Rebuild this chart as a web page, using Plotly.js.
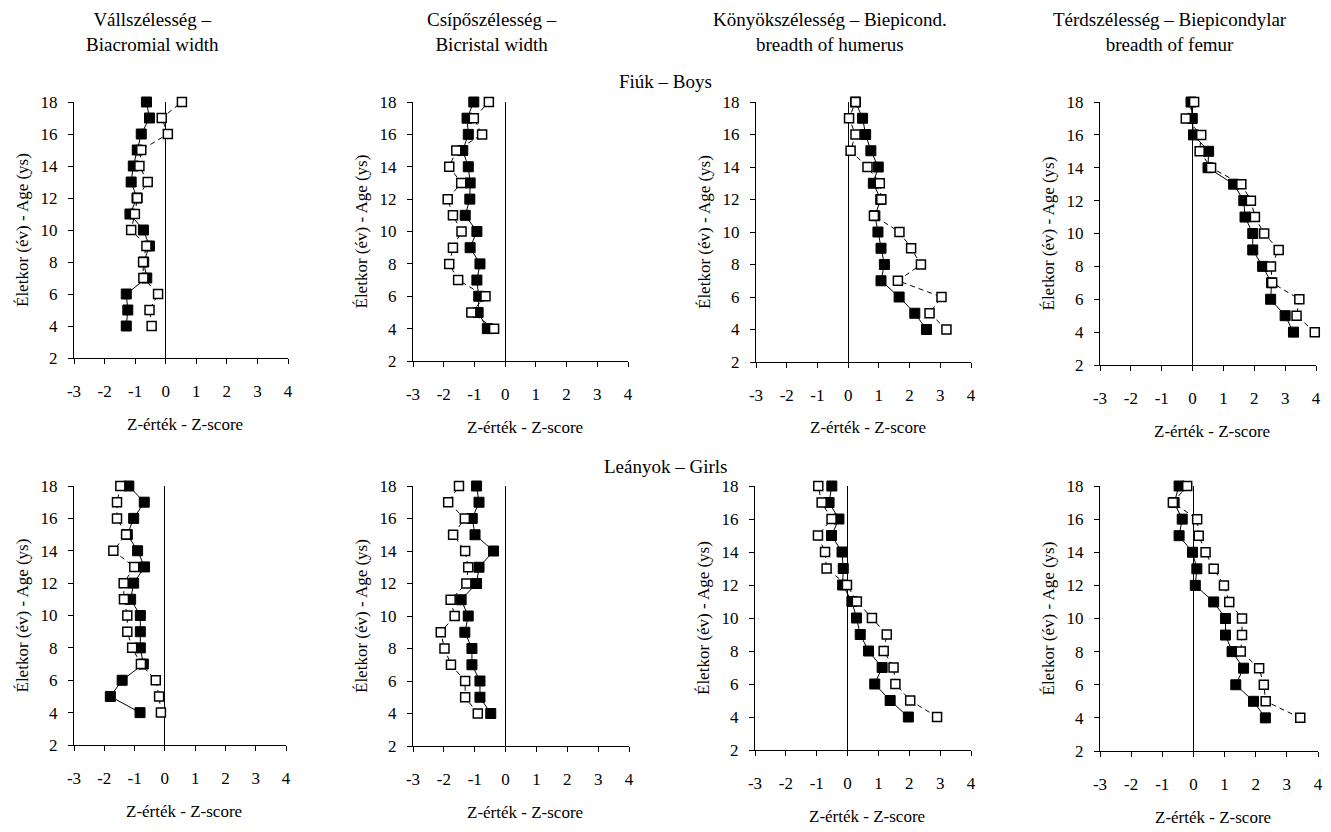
<!DOCTYPE html>
<html>
<head>
<meta charset="utf-8">
<script src="https://cdn.plot.ly/plotly-3.0.1.min.js"></script>
<style>html,body{margin:0;padding:0;background:#fff}#chart{width:1331px;height:832px}</style>
</head>
<body>
<div id="chart"></div>
<script>
// ---- data (ages 4..18) ----
const ages = [4,5,6,7,8,9,10,11,12,13,14,15,16,17,18];
const xTicks = [-3,-2,-1,0,1,2,3,4];
const yTicks = [2,4,6,8,10,12,14,16,18];
const columnTitles = ["Vállszélesség –<br>Biacromial width", "Csípőszélesség –<br>Bicristal width", "Könyökszélesség – Biepicond.<br>breadth of humerus", "Térdszélesség – Biepicondylar<br>breadth of femur"];
const rowTitles = ["Fiúk – Boys", "Leányok – Girls"];
const xTitle = "Z-érték - Z-score";
const yTitle = "Életkor (év) - Age (ys)";

// Boys
const boysShoulderFilled = [-1.29,-1.24,-1.29,-0.62,-0.72,-0.53,-0.73,-1.17,-0.94,-1.13,-1.06,-0.93,-0.80,-0.53,-0.63];
const boysShoulderOpen   = [-0.46,-0.53,-0.25,-0.73,-0.74,-0.63,-1.13,-1.01,-0.93,-0.59,-0.86,-0.80,0.07,-0.13,0.53];
const boysHipFilled = [-0.58,-0.88,-0.86,-0.92,-0.82,-1.14,-0.92,-1.30,-1.15,-1.14,-1.20,-1.38,-1.20,-1.24,-1.02];
const boysHipOpen   = [-0.36,-1.10,-0.64,-1.53,-1.82,-1.70,-1.42,-1.70,-1.87,-1.43,-1.82,-1.59,-0.75,-1.02,-0.53];
const boysElbowFilled = [2.55,2.17,1.66,1.07,1.18,1.07,0.97,0.87,1.06,0.82,0.98,0.74,0.57,0.47,0.24];
const boysElbowOpen   = [3.20,2.65,3.04,1.62,2.37,2.05,1.67,0.84,1.08,1.03,0.63,0.08,0.24,0.03,0.24];
const boysKneeFilled = [3.27,3.00,2.53,2.56,2.27,1.95,1.95,1.70,1.66,1.33,0.50,0.52,0.03,-0.01,-0.05];
const boysKneeOpen   = [3.96,3.37,3.46,2.58,2.54,2.79,2.32,2.02,1.89,1.58,0.60,0.23,0.28,-0.22,0.05];
// Girls
const girlsShoulderFilled = [-0.82,-1.80,-1.41,-0.71,-0.81,-0.81,-0.81,-1.13,-1.03,-0.67,-0.90,-1.24,-1.03,-0.68,-1.19];
const girlsShoulderOpen   = [-0.13,-0.19,-0.30,-0.79,-1.08,-1.24,-1.24,-1.35,-1.36,-1.01,-1.70,-1.28,-1.58,-1.58,-1.47];
const girlsHipFilled = [-0.48,-0.83,-0.83,-1.09,-1.09,-1.32,-1.21,-1.44,-0.94,-0.86,-0.39,-0.99,-1.08,-0.86,-0.94];
const girlsHipOpen   = [-0.90,-1.31,-1.31,-1.77,-1.98,-2.10,-1.65,-1.78,-1.27,-1.21,-1.31,-1.70,-1.32,-1.86,-1.51];
const girlsElbowFilled = [1.97,1.38,0.88,1.12,0.68,0.41,0.29,0.14,-0.16,-0.14,-0.18,-0.52,-0.28,-0.60,-0.51];
const girlsElbowOpen   = [2.90,2.03,1.55,1.49,1.17,1.27,0.79,0.30,-0.02,-0.68,-0.73,-0.96,-0.52,-0.84,-0.95];
const girlsKneeFilled = [2.31,1.93,1.36,1.61,1.24,1.03,1.03,0.65,0.06,0.11,-0.03,-0.46,-0.36,-0.62,-0.46];
const girlsKneeOpen   = [3.43,2.32,2.26,2.11,1.52,1.56,1.56,1.15,0.98,0.65,0.39,0.17,0.12,-0.66,-0.20];

const panels = [
  [boysShoulderFilled, boysShoulderOpen], [boysHipFilled, boysHipOpen],
  [boysElbowFilled, boysElbowOpen], [boysKneeFilled, boysKneeOpen],
  [girlsShoulderFilled, girlsShoulderOpen], [girlsHipFilled, girlsHipOpen],
  [girlsElbowFilled, girlsElbowOpen], [girlsKneeFilled, girlsKneeOpen]
];

// ---- layout geometry (pixels) ----
const W = 1331, H = 832;
const boxes = [
  {x0:74, x1:288, y0:102, y1:358},
  {x0:413, x1:628, y0:102, y1:361},
  {x0:756, x1:971, y0:102, y1:362},
  {x0:1100, x1:1316, y0:102, y1:365},
  {x0:74, x1:286, y0:486, y1:745},
  {x0:413, x1:629, y0:486, y1:746},
  {x0:755, x1:971, y0:486, y1:750},
  {x0:1100, x1:1318, y0:486, y1:751}
];
const FONT = "Liberation Serif";
const px = v => v / W;
const py = v => 1 - v / H;

const traces = [];
const layout = {
  width: W, height: H,
  margin: {l:0, r:0, t:0, b:0},
  paper_bgcolor: "#fff", plot_bgcolor: "rgba(0,0,0,0)",
  showlegend: false,
  font: {family: FONT, color: "#000", size: 16},
  annotations: [],
  shapes: []
};

panels.forEach((p, i) => {
  const n = i + 1;
  const xa = "x" + (n === 1 ? "" : n), ya = "y" + (n === 1 ? "" : n);
  const b = boxes[i];
  traces.push({
    x: p[0], y: ages, xaxis: xa, yaxis: ya, type: "scatter", mode: "lines+markers",
    line: {color: "#000", width: 1},
    marker: {symbol: "square", size: 10, color: "#000", line: {color: "#000", width: 1}},
    cliponaxis: false, hoverinfo: "skip"
  });
  traces.push({
    x: p[1], y: ages, xaxis: xa, yaxis: ya, type: "scatter", mode: "lines+markers",
    line: {color: "#000", width: 1, dash: "5px,4px"},
    marker: {symbol: "square", size: 9, color: "#fff", line: {color: "#000", width: 1.5}},
    cliponaxis: false, hoverinfo: "skip"
  });
  const xk = "xaxis" + (n === 1 ? "" : n), yk = "yaxis" + (n === 1 ? "" : n);
  layout[xk] = {
    domain: [px(b.x0), px(b.x1)], anchor: ya, range: [-3, 4],
    tickvals: xTicks, ticktext: xTicks.map(String),
    ticks: "outside", ticklen: 5, tickcolor: "#000", tickwidth: 1,
    showline: true, linecolor: "#000", linewidth: 1, mirror: false,
    showgrid: false, zeroline: true, zerolinecolor: "#000", zerolinewidth: 1,
    tickfont: {family: FONT, size: 17, color: "#000"},
    ticklabelstandoff: 13, fixedrange: true
  };
  layout[yk] = {
    domain: [py(b.y1), py(b.y0)], anchor: xa, range: [2, 18],
    tickvals: yTicks, ticktext: yTicks.map(String),
    ticks: "outside", ticklen: 5, tickcolor: "#000", tickwidth: 1,
    showline: true, linecolor: "#000", linewidth: 1,
    showgrid: false, zeroline: false,
    tickfont: {family: FONT, size: 17, color: "#000"},
    ticklabelstandoff: 7, fixedrange: true
  };
  // axis titles
  layout.annotations.push({
    xref: "paper", yref: "paper", x: px((b.x0 + b.x1) / 2 + 4), y: py(b.y1 + 66),
    text: xTitle, showarrow: false, xanchor: "center", yanchor: "middle",
    font: {family: FONT, size: 17, color: "#000"}
  });
  layout.annotations.push({
    xref: "paper", yref: "paper", x: px(b.x0 - 52), y: py((b.y0 + b.y1) / 2),
    text: yTitle, showarrow: false, textangle: -90, xanchor: "center", yanchor: "middle",
    font: {family: FONT, size: 17, color: "#000"}
  });
});

const colCenters = [152, 492, 830, 1170];
columnTitles.forEach((t, i) => {
  layout.annotations.push({
    xref: "paper", yref: "paper", x: px(colCenters[i]), y: py(32),
    text: t, showarrow: false, xanchor: "center", yanchor: "middle",
    font: {family: FONT, size: 19, color: "#000"}
  });
});
const rowY = [82, 467];
rowTitles.forEach((t, i) => {
  layout.annotations.push({
    xref: "paper", yref: "paper", x: px(665), y: py(rowY[i]),
    text: t, showarrow: false, xanchor: "center", yanchor: "middle",
    font: {family: FONT, size: 19, color: "#000"}
  });
});

Plotly.newPlot("chart", traces, layout, {staticPlot: true, displayModeBar: false});
</script>
</body>
</html>
